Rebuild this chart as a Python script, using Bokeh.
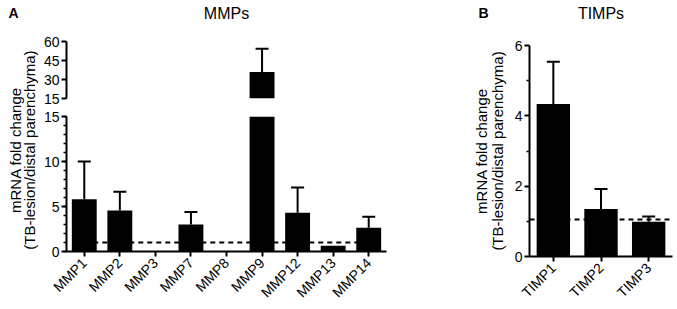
import math
from bokeh.plotting import figure
from bokeh.models import Range1d, FactorRange, FixedTicker, ColumnDataSource, Span
from bokeh.layouts import row, column
from bokeh.embed import file_html
from bokeh.resources import INLINE
from bokeh.core.properties import value

# ---------------- data ----------------
mmp_labels = ["MMP1", "MMP2", "MMP3", "MMP7", "MMP8", "MMP9", "MMP12", "MMP13", "MMP14"]
mmp_mean = [5.8, 4.55, 0.0, 3.0, 0.0, 36.0, 4.3, 0.65, 2.65]
mmp_sem = [4.2, 2.1, 0.0, 1.4, 0.0, 18.3, 2.8, 0.0, 1.2]
mmp_ref = 1.0
mmp_break = 15
mmp_lower_ticks = [0, 5, 10, 15]
mmp_lower_minor = list(range(0, 16))
mmp_upper_ticks = [15, 30, 45, 60]

timp_labels = ["TIMP1", "TIMP2", "TIMP3"]
timp_mean = [4.34, 1.35, 0.99]
timp_sem = [1.2, 0.57, 0.15]
timp_ref = 1.05
timp_ticks = [0, 2, 4, 6]
timp_minor = [1, 3, 5]

y_title = ["mRNA fold change", "(TB-lesion/distal parenchyma)"]
panel_letters = ["A", "B"]
panel_titles = ["MMPs", "TIMPs"]

FONT = "Liberation Sans"
TICK_FS = "14px"
PAGE_H = 308
HEAD_H = 28                  # header strip with panel letters and titles
H = PAGE_H - HEAD_H          # height of the full-height figures below it
B_TOP, B_BOTTOM = 17, 51     # borders of panel B (label strips use the same)
W_LAB_A, W_A, W_LAB_B, W_B = 40, 430, 38, 169


def style_y(p, ticks, minor):
    ax = p.yaxis[0]
    ax.ticker = FixedTicker(ticks=ticks, minor_ticks=minor)
    ax.axis_line_width = 2
    ax.axis_line_color = "black"
    ax.major_tick_line_width = 2
    ax.major_tick_line_color = "black"
    ax.minor_tick_line_width = 1.5
    ax.minor_tick_line_color = "black"
    ax.major_tick_out = 5
    ax.major_tick_in = 0
    ax.minor_tick_out = 3
    ax.minor_tick_in = 0
    ax.major_label_standoff = 2
    ax.major_label_text_font = FONT
    ax.major_label_text_font_size = TICK_FS
    ax.major_label_text_color = "black"


def style_x(p):
    ax = p.xaxis[0]
    ax.axis_line_width = 2
    ax.axis_line_color = "black"
    ax.major_tick_line_width = 2
    ax.major_tick_line_color = "black"
    ax.major_tick_out = 5
    ax.major_tick_in = 0
    ax.major_label_standoff = 4
    ax.major_label_orientation = math.pi / 4
    ax.major_label_text_font = FONT
    ax.major_label_text_font_size = TICK_FS
    ax.major_label_text_color = "black"


def base(p):
    p.outline_line_color = None
    p.xgrid.visible = False
    p.ygrid.visible = False
    p.background_fill_color = "white"
    p.border_fill_color = "white"


def draw_bars(p, cats, mean, sem, bottom=0, keep=None):
    if keep is None:
        keep = [True] * len(cats)
    bx = [c for c, k in zip(cats, keep) if k]
    bt = [m for m, k in zip(mean, keep) if k]
    src = ColumnDataSource(dict(x=bx, top=bt))
    p.vbar(x="x", top="top", bottom=bottom, width=0.7, source=src,
           fill_color="black", line_color=None)
    sel = [k and s > 0 for k, s in zip(keep, sem)]
    ex = [c for c, k in zip(cats, sel) if k]
    ey0 = [m for m, k in zip(mean, sel) if k]
    ey1 = [m + s for m, s, k in zip(mean, sem, sel) if k]
    esrc = ColumnDataSource(dict(x=ex, y0=ey0, y1=ey1))
    p.segment(x0="x", y0="y0", x1="x", y1="y1", source=esrc,
              line_color="black", line_width=2)
    p.scatter(x="x", y="y1", source=esrc, marker="dash", size=13,
              line_color="black", line_width=2)


# ---------------- header strip: panel letters + titles ----------------
W_ALL = W_LAB_A + W_A + W_LAB_B + W_B
head = figure(width=W_ALL, height=HEAD_H, x_range=Range1d(0, W_ALL),
              y_range=Range1d(0, HEAD_H), min_border=0, toolbar_location=None,
              output_backend="svg", x_axis_location=None, y_axis_location=None,
              title=None)
head.outline_line_color = None
head.grid.visible = False
a_frame_center = W_LAB_A + 26 + (W_A - 26 - 84) / 2
b_frame_center = W_LAB_A + W_A + W_LAB_B + 21 + (W_B - 21 - 5) / 2
head.text(x=[8, W_LAB_A + W_A + 8], y=[HEAD_H - 4, HEAD_H - 4], text=panel_letters,
          text_font=value(FONT), text_font_style="bold", text_font_size="14px",
          text_baseline="top", text_align="left", text_color="black")
head.text(x=[a_frame_center, b_frame_center], y=[HEAD_H - 13, HEAD_H - 13],
          text=panel_titles, text_font=value(FONT), text_font_size="16px",
          text_baseline="middle", text_align="center", text_color="black")

# ---------------- panel A: upper segment ----------------
xr_a = FactorRange(*mmp_labels)
pa_up = figure(width=W_A, height=79, x_range=xr_a, y_range=Range1d(mmp_break, 60),
               min_border_left=26, min_border_right=84, min_border_top=13,
               min_border_bottom=9, toolbar_location=None, output_backend="svg",
               x_axis_location=None, title=None)
base(pa_up)
style_y(pa_up, mmp_upper_ticks, [])
draw_bars(pa_up, mmp_labels, mmp_mean, mmp_sem, bottom=mmp_break,
          keep=[m > mmp_break for m in mmp_mean])

# ---------------- panel A: lower segment ----------------
pa_lo = figure(width=W_A, height=201, x_range=xr_a, y_range=Range1d(0, mmp_break),
               min_border_left=26, min_border_right=84, min_border_top=9,
               min_border_bottom=57, toolbar_location=None, output_backend="svg",
               title=None)
base(pa_lo)
style_y(pa_lo, mmp_lower_ticks, mmp_lower_minor)
style_x(pa_lo)
pa_lo.line(x=[mmp_labels[0], mmp_labels[-1]], y=[mmp_ref, mmp_ref], line_color="black",
           line_width=2, line_dash="5 4")
draw_bars(pa_lo, mmp_labels, mmp_mean, mmp_sem)

# ---------------- panel B ----------------
pb = figure(width=W_B, height=H, x_range=FactorRange(*timp_labels),
            y_range=Range1d(0, 6), min_border_left=21, min_border_right=5,
            min_border_top=B_TOP, min_border_bottom=B_BOTTOM, toolbar_location=None,
            output_backend="svg", title=None)
base(pb)
style_y(pb, timp_ticks, timp_minor)
style_x(pb)
pb.add_layout(Span(location=timp_ref, dimension="width", line_color="black",
                   line_width=2, line_dash="5 4", level="underlay"))
draw_bars(pb, timp_labels, timp_mean, timp_sem)


# ---------------- y-axis title strips (data y = 309 - page y) ----------------
def label_fig(width, line_xs, page_center_y):
    top_page = HEAD_H + B_TOP
    bottom_page = PAGE_H - B_BOTTOM
    p = figure(width=width, height=H, x_range=Range1d(0, width),
               y_range=Range1d(PAGE_H + 1 - bottom_page, PAGE_H + 1 - top_page),
               min_border_left=0, min_border_right=0,
               min_border_top=B_TOP, min_border_bottom=B_BOTTOM,
               toolbar_location=None, output_backend="svg",
               x_axis_location=None, y_axis_location=None, title=None)
    p.outline_line_color = None
    p.grid.visible = False
    cy = PAGE_H + 1 - page_center_y
    p.text(x=line_xs, y=[cy, cy], text=y_title, angle=math.pi / 2,
           text_font=value(FONT), text_font_size="15px", text_align="center",
           text_baseline="middle", text_color="black")
    return p


lab_a = label_fig(W_LAB_A, [15, 29], 150)
lab_b = label_fig(W_LAB_B, [11, 27], 151)

layout = column(head, row(lab_a, column(pa_up, pa_lo), lab_b, pb))

with open("out.html", "w") as f:
    f.write(file_html(layout, INLINE))
